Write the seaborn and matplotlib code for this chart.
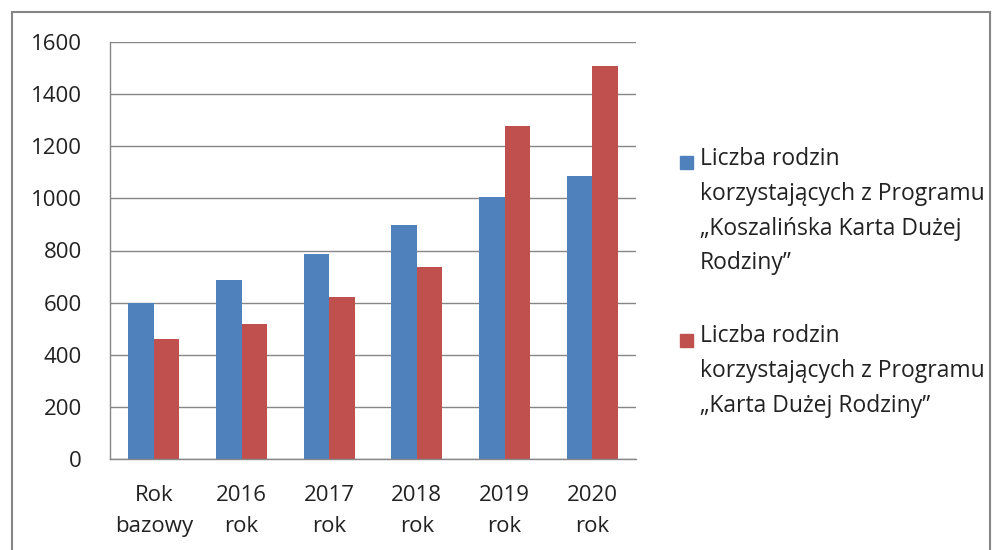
import pandas as pd
import matplotlib
matplotlib.use("Agg")
import matplotlib.pyplot as plt
import seaborn as sns
from matplotlib.patches import Rectangle

# dane
kategorie = ["Rok\nbazowy", "2016\nrok", "2017\nrok", "2018\nrok", "2019\nrok", "2020\nrok"]
koszalinska_kdr = [600, 686, 788, 896, 1006, 1085]
ogolnopolska_kdr = [460, 517, 620, 736, 1278, 1507]
seria1 = "Liczba rodzin\nkorzystających z Programu\n„Koszalińska Karta Dużej\nRodziny”"
seria2 = "Liczba rodzin\nkorzystających z Programu\n„Karta Dużej Rodziny”"
kolory = ["#4F81BD", "#C0504D"]

df = pd.DataFrame({
    "Rok": kategorie * 2,
    "Liczba": koszalinska_kdr + ogolnopolska_kdr,
    "Seria": [seria1] * len(kategorie) + [seria2] * len(kategorie),
})

sns.set_style("white")
plt.rcParams['font.family'] = ['Open Sans', 'DejaVu Sans']
szary = "#868686"
tekst = "#222222"
PX = 72 / 100  # px -> pt

fig = plt.figure(figsize=(9.96, 5.5), dpi=100)
ax = fig.add_axes([110 / 996, 1 - 459 / 550, 526 / 996, 417 / 550])

sns.barplot(data=df, x="Rok", y="Liczba", hue="Seria", palette=kolory,
            width=0.58, saturation=1, legend=False, linewidth=0,
            edgecolor="none", ax=ax)

ax.set_xlim(-0.5, len(kategorie) - 0.5)
ax.set_ylim(0, 1600)
ax.set_yticks(range(0, 1601, 200))
ax.yaxis.grid(True, color=szary, lw=1)
ax.set_axisbelow(True)
ax.set_xlabel("")
ax.set_ylabel("")

for s in ["top", "right"]:
    ax.spines[s].set_visible(False)
for s in ["left", "bottom"]:
    ax.spines[s].set_color(szary)
    ax.spines[s].set_linewidth(1)

ax.tick_params(axis="y", length=8 * PX, width=1, color=szary, pad=20 * PX,
               labelsize=16, labelcolor=tekst)
ax.set_xticks([i - 0.5 for i in range(len(kategorie) + 1)], minor=True)
ax.tick_params(axis="x", which="minor", length=8 * PX, width=1, color=szary)
ax.tick_params(axis="x", which="major", length=0, pad=26 * PX,
               labelsize=16, labelcolor=tekst)
for t in ax.get_xticklabels():
    t.set_linespacing(1.62)

# legenda
for kolor, etykieta, y in zip(kolory, [seria1, seria2], [163, 340]):
    fig.add_artist(Rectangle((680 / 996, 1 - (y + 6.5) / 550), 13 / 996, 13 / 550,
                             transform=fig.transFigure, color=kolor))
    fig.text(700 / 996, 1 - (y - 16) / 550, etykieta, va="top", ha="left",
             fontsize=16.5, color=tekst, linespacing=1.6)

# ramka wykresu
fig.add_artist(Rectangle((12 / 996, -0.05), 978 / 996, 1 - 12 / 550 + 0.05,
                         transform=fig.transFigure, fill=False,
                         edgecolor=szary, lw=1.5))

fig.savefig("out.png", dpi=100)
